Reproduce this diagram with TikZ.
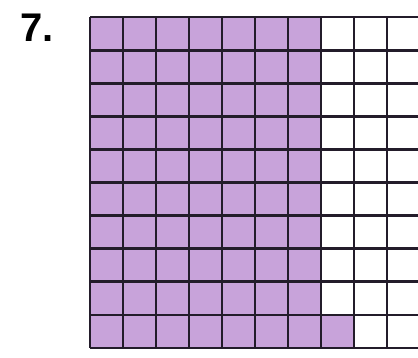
\documentclass[tikz,border=0pt]{standalone}
\usepackage{fontspec}
\setmainfont{Liberation Sans}
\usepackage{tikz}
\definecolor{cellpurple}{RGB}{200,163,218}
\definecolor{gridline}{RGB}{35,28,42}

\begin{document}
\begin{tikzpicture}[
  x=1pt,y=-1pt,
  cell/.style={fill=cellpurple},
  gl/.style={draw=gridline,line width=2.8pt}
]
\useasboundingbox (0,0) rectangle (418,357);
\begin{scope}
\clip (0,0) rectangle (418,357);
% shaded cells: 7 columns plus one
\fill[cell] (90,17) rectangle ++(231,331);
\fill[cell] (321,315) rectangle ++(33,33);
% grid
\foreach \i in {0,...,10}
  \draw[gl] (90+33*\i,17) -- ++(0,331);
\foreach \j in {0,...,10}
  \draw[gl] (90,17+33.1*\j) -- ++(335,0);
\end{scope}
\node[font=\fontsize{40}{40}\bfseries\selectfont,anchor=center] (num) at (37,28) {7.};
\end{tikzpicture}
\end{document}
